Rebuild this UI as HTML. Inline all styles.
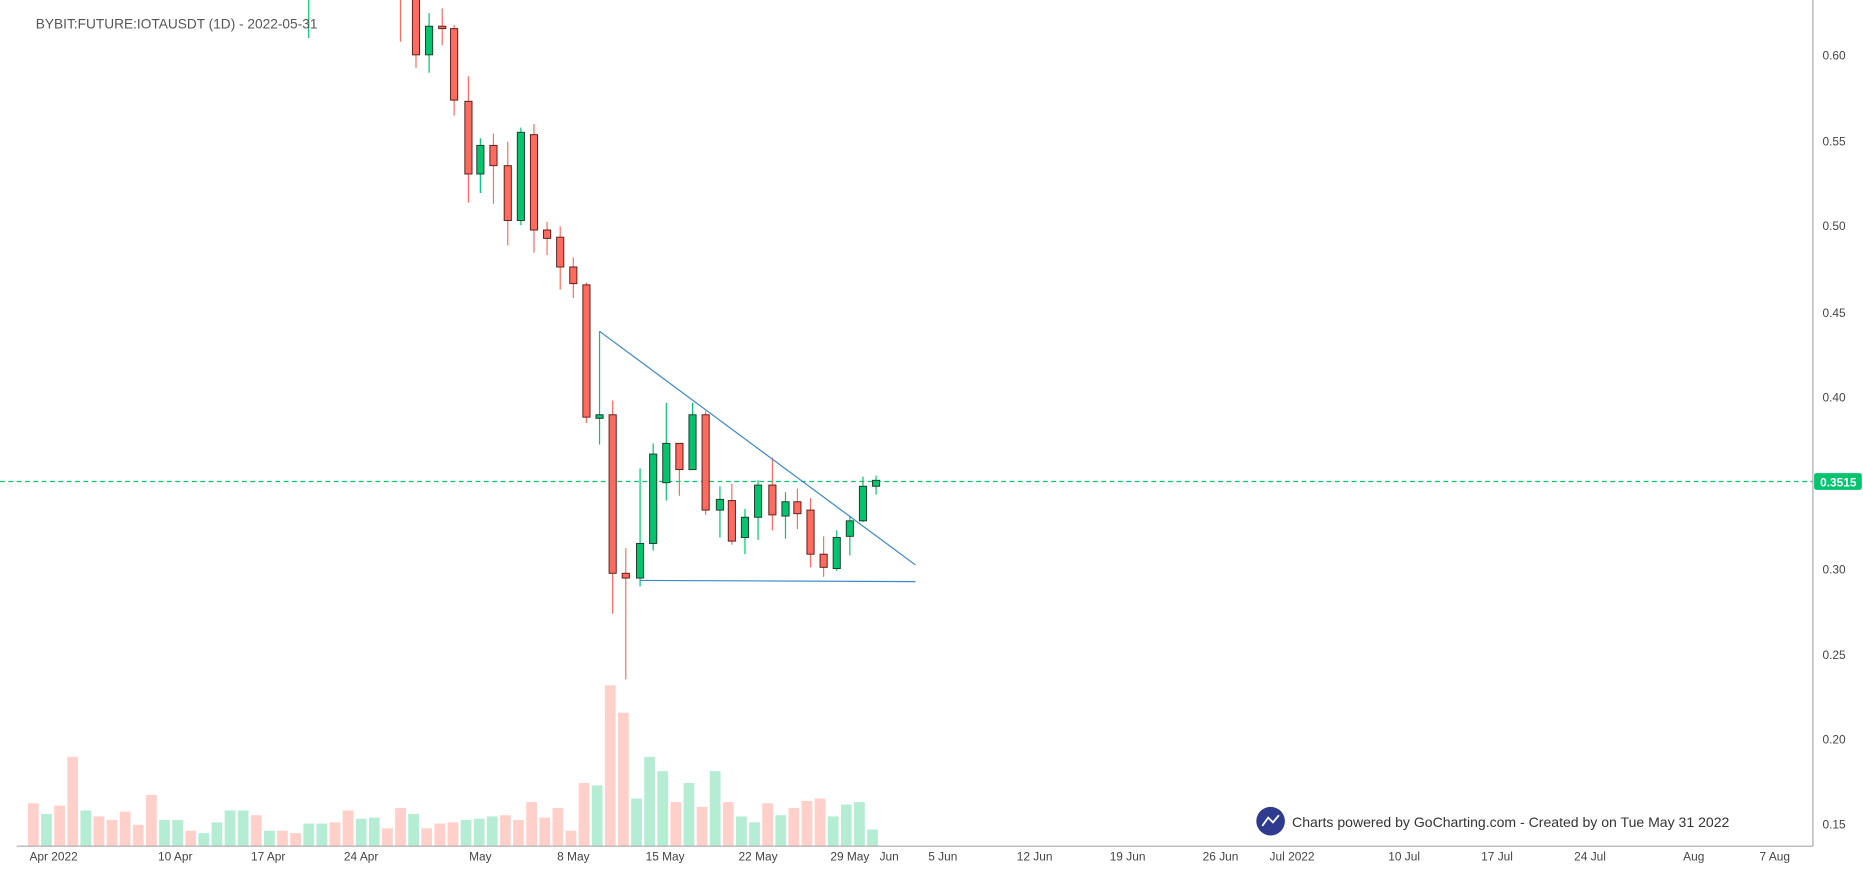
<!DOCTYPE html>
<html><head><meta charset="utf-8"><style>
html,body{margin:0;padding:0;background:#fff;overflow:hidden}
svg{display:block}
text{font-family:"Liberation Sans",sans-serif}
</style></head><body>
<svg id="s" width="1863" height="876" viewBox="0 0 1563 735" preserveAspectRatio="none" xmlns="http://www.w3.org/2000/svg">
<rect width="1563" height="735" fill="#fff"/>
<g id="vol"></g>
<line x1="259" y1="0" x2="259" y2="32" stroke="#00c46e" stroke-width="1"/>
<text x="30" y="24" font-size="11.5" fill="#555">BYBIT:FUTURE:IOTAUSDT (1D) - 2022-05-31</text>
<line x1="0" y1="404" x2="1521" y2="404" stroke="#00c46e" stroke-width="1" stroke-dasharray="4,3"/>
<g id="cd"></g>
<line x1="503" y1="278" x2="768" y2="474" stroke="#3a88c8" stroke-width="1"/>
<line x1="537" y1="487" x2="768" y2="488" stroke="#3a88c8" stroke-width="1"/>
<line x1="1521" y1="0" x2="1521" y2="710" stroke="#aaa" stroke-width="1"/>
<line x1="14" y1="710" x2="1521" y2="710" stroke="#aaa" stroke-width="1"/>
<g font-size="10" fill="#444">
<text x="1529" y="50">0.60</text><text x="1529" y="122">0.55</text><text x="1529" y="193">0.50</text>
<text x="1529" y="266">0.45</text><text x="1529" y="337">0.40</text><text x="1529" y="481">0.30</text>
<text x="1529" y="553">0.25</text><text x="1529" y="624">0.20</text><text x="1529" y="695">0.15</text>
</g>
<rect x="1522" y="397" width="40" height="14" rx="2" fill="#00c46e"/>
<text x="1527" y="408" font-size="10" fill="#fff" font-weight="bold">0.3515</text>
<g font-size="10" fill="#444" text-anchor="middle">
<text x="45" y="722">Apr 2022</text><text x="147" y="722">10 Apr</text><text x="225" y="722">17 Apr</text>
<text x="303" y="722">24 Apr</text><text x="403" y="722">May</text><text x="481" y="722">8 May</text>
<text x="558" y="722">15 May</text><text x="636" y="722">22 May</text><text x="713" y="722">29 May</text>
<text x="746" y="722">Jun</text><text x="791" y="722">5 Jun</text><text x="868" y="722">12 Jun</text>
<text x="946" y="722">19 Jun</text><text x="1024" y="722">26 Jun</text><text x="1084" y="722">Jul 2022</text>
<text x="1178" y="722">10 Jul</text><text x="1256" y="722">17 Jul</text><text x="1334" y="722">24 Jul</text>
<text x="1421" y="722">Aug</text><text x="1489" y="722">7 Aug</text>
</g>
<circle cx="1066" cy="689" r="12" fill="#2e3b8f"/>
<polyline points="1059,693 1064,686 1068,690 1073,684" fill="none" stroke="#fff" stroke-width="1.5"/>
<text x="1084" y="694" font-size="11.8" fill="#333">Charts powered by GoCharting.com - Created by  on Tue May 31 2022</text>
</svg>
<script>
var NS="http://www.w3.org/2000/svg";
function el(p,t,a){var e=document.createElementNS(NS,t);for(var k in a)e.setAttribute(k,a[k]);p.appendChild(e);return e;}
var vol=document.getElementById('vol'),cd=document.getElementById('cd');
var V="28:674r 39:683g 50:676r 61:635r 72:680g 83:685r 94:688r 105:681r 116:692r 127:667r 138:688g 149:688g 160:697r 171:699g 182:690g 193:680g 204:680g 215:684r 226:697g 237:697r 248:699r 259:691g 270:691g 281:690r 292:680r 303:687g 314:686g 325:695r 336:678r 347:683g 358:695r 369:691r 380:690r 391:688g 402:687g 413:685g 424:684r 435:688r 446:673r 457:686r 468:678r 479:697r 490:657r 501:659g 512:575r 523:598r 534:670g 545:635g 556:647g 567:673r 578:657g 589:677r 600:647g 611:673r 622:685g 633:690g 644:674r 655:684g 666:678r 677:672r 688:670r 699:685g 710:675g 721:673g 732:696g".split(' ');
V.forEach(function(s){var p=s.split(':'),x=+p[0],y=parseInt(p[1]),c=p[1].slice(-1);
el(vol,'rect',{x:x-4.5,y:y,width:9,height:710-y,fill:c=='r'?'#ffcfca':'#b4ecd4'});});
var C=[[336,0,0,0,35,'r'],[349,-5,46,-5,57,'r'],[360,46,22,11,61,'g'],[371,22,24,7,38,'r'],[381,24,84,21,97,'r'],[393,85,146,64,170,'r'],[403,146,122,116,162,'g'],[414,122,139,112,171,'r'],[426,139,185,119,206,'r'],[437,185,111,107,189,'g'],[448,113,193,104,212,'r'],[459,193,200,186,214,'r'],[470,199,224,190,243,'r'],[481,224,238,216,250,'r'],[492,239,350,237,355,'r'],[503,351,348,278,373,'g'],[514,348,481,336,515,'r'],[525,481,485,460,570,'r'],[537,485,456,393,492,'g'],[548,456,381,372,462,'g'],[559,405,372,338,420,'g'],[570,372,394,372,416,'r'],[581,394,348,338,394,'g'],[592,348,428,345,432,'r'],[604,428,419,408,451,'g'],[614,420,454,406,457,'r'],[625,451,434,427,465,'g'],[636,434,407,403,453,'g'],[648,407,432,384,445,'r'],[659,433,421,413,452,'g'],[669,421,431,410,444,'r'],[680,428,465,418,476,'r'],[691,465,476,450,484,'r'],[702,477,451,445,479,'g'],[713,450,437,433,466,'g'],[724,437,408,400,438,'g'],[735,408,403,399,415,'g']];
C.forEach(function(c){var x=c[0],r=c[5]=='r';
el(cd,'line',{x1:x,x2:x,y1:c[3],y2:c[4],stroke:r?'#ff6b5e':'#00c46e','stroke-width':1});
if(c[0]==336)return;
var t=Math.min(c[1],c[2]),b=Math.max(c[1],c[2]);if(b-t<2)b=t+2;
el(cd,'rect',{x:x-3,y:t,width:6,height:b-t,fill:r?'#ff6b5e':'#00c46e',stroke:r?'#5a1a1a':'#1d3a2a','stroke-width':0.8});});
</script>
</body></html>
